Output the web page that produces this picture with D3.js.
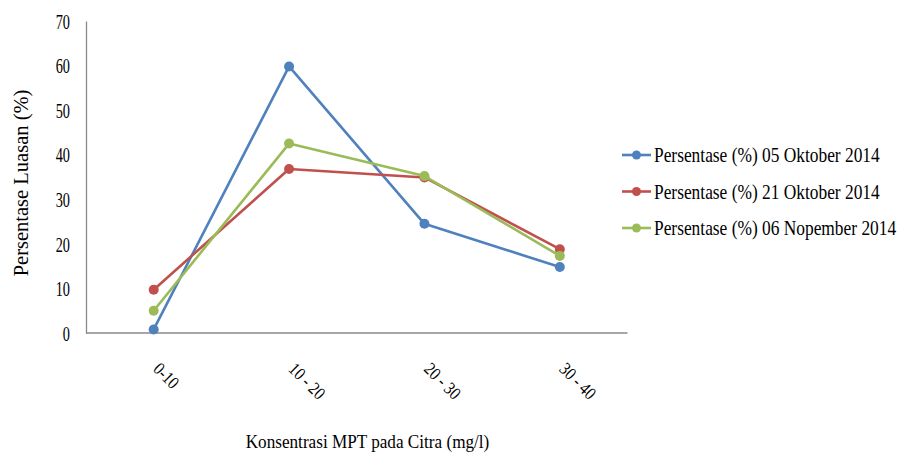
<!DOCTYPE html>
<html>
<head>
<meta charset="utf-8">
<script src="https://cdn.jsdelivr.net/npm/d3@7"></script>
<style>
  html, body { margin: 0; padding: 0; background: #fff; }
  svg { display: block; }
</style>
</head>
<body>
<svg id="chart" width="903" height="452"></svg>
<script>
const categories = ["0-10", "10 - 20", "20 - 30", "30 - 40"];
const seriesNames = [
  "Persentase (%) 05 Oktober 2014",
  "Persentase (%) 21 Oktober 2014",
  "Persentase (%) 06 Nopember 2014"
];
const values05Okt = [0.8, 59.8, 24.5, 14.8];
const values21Okt = [9.7, 36.8, 34.9, 18.8];
const values06Nop = [5.0, 42.5, 35.2, 17.3];
const yTicks = [0, 10, 20, 30, 40, 50, 60, 70];
const colors = ["#4F81BD", "#C0504D", "#9BBB59"];
const yTitle = "Persentase Luasan (%)";
const xTitle = "Konsentrasi MPT pada Citra (mg/l)";
const FONT = "Liberation Serif";

const series = [values05Okt, values21Okt, values06Nop].map((v, i) => ({
  name: seriesNames[i], color: colors[i], values: v
}));

const svg = d3.select("#chart");
const plotLeft = 86, plotRight = 627.5, plotTop = 21, plotBottom = 333;

const x = d3.scalePoint().domain(categories).range([plotLeft, plotRight]).padding(0.5);
const y = d3.scaleLinear().domain([0, 70]).range([plotBottom, plotTop]);

// Y axis
const yAxis = svg.append("g")
  .attr("transform", `translate(${plotLeft},0)`)
  .call(d3.axisLeft(y).tickValues(yTicks).tickSize(0).tickFormat(d3.format("d")));
yAxis.attr("font-family", FONT);
yAxis.select(".domain").attr("stroke", "#8a8a8a").attr("stroke-width", 1.3);
yAxis.selectAll(".tick text")
  .attr("x", 0)
  .attr("dy", "0.34em")
  .attr("fill", "#000")
  .attr("font-family", FONT)
  .attr("font-size", 21)
  .attr("transform", "translate(-16,0) scale(0.68,1)")
  .attr("text-anchor", "end");

// X axis
const xAxis = svg.append("g")
  .attr("transform", `translate(0,${plotBottom})`)
  .call(d3.axisBottom(x).tickSize(0).tickFormat(() => ""));
xAxis.attr("font-family", FONT);
xAxis.select(".domain").attr("stroke", "#8a8a8a").attr("stroke-width", 1.3)
  .attr("d", `M${plotLeft},0H${plotRight}`);
xAxis.selectAll(".tick").each(function(d) {
  d3.select(this).append("text")
    .attr("transform", "translate(-2,37) rotate(45) scale(0.85,1)")
    .attr("text-anchor", "start")
    .attr("fill", "#000")
    .attr("font-family", FONT)
    .attr("font-size", 18)
    .text(d);
});

// Axis titles
svg.append("text")
  .attr("transform", "translate(28,183) rotate(-90)")
  .attr("text-anchor", "middle")
  .attr("font-family", FONT)
  .attr("font-size", 20.5)
  .text(yTitle);

svg.append("text")
  .attr("transform", "translate(367.5,448) scale(0.88,1)")
  .attr("text-anchor", "middle")
  .attr("font-family", FONT)
  .attr("font-size", 19.5)
  .text(xTitle);

// Lines
const line = d3.line()
  .x((d, i) => x(categories[i]))
  .y(d => y(d));

const g = svg.append("g");
series.forEach(s => {
  g.append("path")
    .datum(s.values)
    .attr("fill", "none")
    .attr("stroke", s.color)
    .attr("stroke-width", 2.6)
    .attr("stroke-linejoin", "round")
    .attr("d", line);
  g.selectAll(null)
    .data(s.values)
    .enter().append("circle")
    .attr("cx", (d, i) => x(categories[i]))
    .attr("cy", d => y(d))
    .attr("r", 5)
    .attr("fill", s.color);
});

// Legend
const legendY = [155, 191.5, 228];
const leg = svg.append("g");
series.forEach((s, i) => {
  const row = leg.append("g").attr("transform", `translate(0,${legendY[i]})`);
  row.append("line")
    .attr("x1", 622).attr("x2", 651).attr("y1", 0).attr("y2", 0)
    .attr("stroke", s.color).attr("stroke-width", 2.6);
  row.append("circle").attr("cx", 636.5).attr("cy", 0).attr("r", 4.5).attr("fill", s.color);
  row.append("text")
    .attr("transform", "translate(654,7) scale(0.79,1)")
    .attr("font-family", FONT)
    .attr("font-size", 22)
    .text(s.name);
});
</script>
</body>
</html>
